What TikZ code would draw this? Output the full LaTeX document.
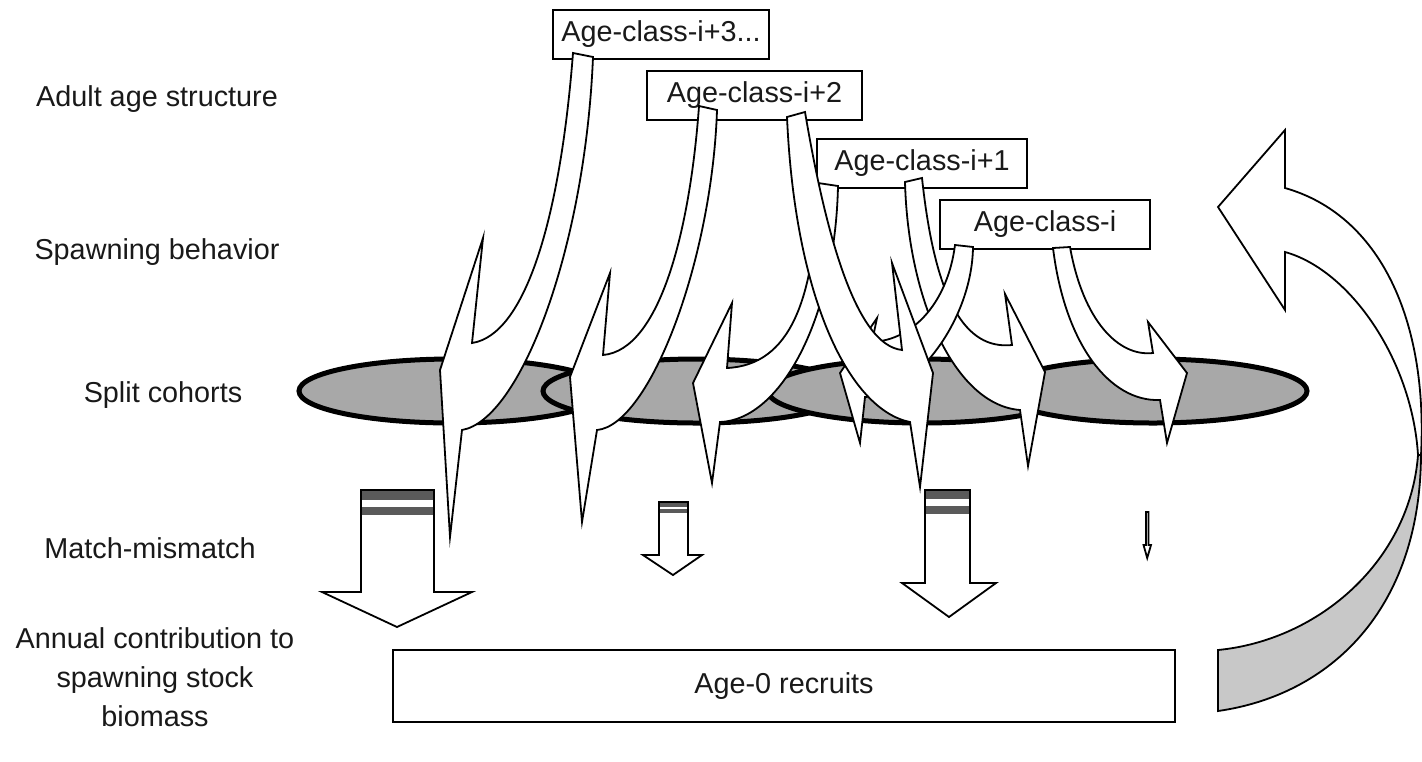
\documentclass[tikz,border=0pt]{standalone}
\usepackage{fontspec}
\setmainfont{Liberation Sans}
\definecolor{cohortgray}{HTML}{A8A8A8}
\definecolor{ribbongray}{HTML}{C8C8C8}
\definecolor{stripegray}{HTML}{5A5A5A}
\begin{document}
\begin{tikzpicture}[x=0.5pt,y=-0.5pt,
  every node/.style={font=\fontsize{14.4pt}{19.5pt}\selectfont, text=black!90},
  cohort/.style={fill=cohortgray, draw=black, line width=2.5pt},
  agebox/.style={draw=black, line width=1pt, fill=white, inner sep=0pt, minimum height=24.5pt},
  spiky/.style={draw=black, fill=white, line width=0.9pt, line join=miter, miter limit=25},
  blockarr/.style={draw=black, line width=0.9pt, line join=miter},
  stripe/.style={fill=stripegray},
  rowlabel/.style={align=center, inner sep=0pt}
]
\useasboundingbox (0,0) rectangle (1422,761);

% row labels
\node[rowlabel] (lab1) at (157,99) {Adult age structure};
\node[rowlabel] (lab2) at (157,252) {Spawning behavior};
\node[rowlabel] (lab3) at (163,395) {Split cohorts};
\node[rowlabel] (lab4) at (150,548) {Match-mismatch};
\node[rowlabel] (lab5) at (155,677) {Annual contribution to\\spawning stock\\biomass};

% split cohorts
\path[cohort] (453,391) ellipse [x radius=77pt, y radius=16pt];
\path[cohort] (697,391) ellipse [x radius=77pt, y radius=16pt];
\path[cohort] (922,391) ellipse [x radius=77pt, y radius=16pt];
\path[cohort] (1153,391) ellipse [x radius=77pt, y radius=16pt];

% age-class boxes
\node[agebox, minimum width=108pt] (a3) at (661,34) {Age-class-i+3...};
\node[agebox, minimum width=107.5pt] (a2) at (754.5,95.5) {Age-class-i+2};
\node[agebox, minimum width=105pt] (a1) at (922,163) {Age-class-i+1};
\node[agebox, minimum width=105pt] (a0) at (1045,224.5) {Age-class-i};

% spawning arrows
% A (i+3)
\path[spiky] (573,53) .. controls (560,220) and (525,335) .. (472,343) -- (483,238) -- (440,370) -- (450,537) -- (462,430) .. controls (520,420) and (585,250) .. (593,57) -- cycle;
% B (i+2 left)
\path[spiky] (699,106) .. controls (690,230) and (660,350) .. (603,355) -- (610,273) -- (570,377) -- (582,522) -- (597,430) .. controls (650,425) and (712,260) .. (717,110) -- cycle;
% C (i+1 left)
\path[spiky] (818,183) .. controls (815,300) and (790,365) .. (727,368) -- (732,303) -- (693,383) -- (712,483) -- (720,422) .. controls (780,420) and (835,320) .. (838,186) -- cycle;
% F (i+1 right)
\path[spiky] (922,178) .. controls (935,300) and (965,350) .. (1012,345) -- (1005,294) -- (1045,372) -- (1028,466) -- (1020,410) .. controls (955,405) and (908,300) .. (905,182) -- cycle;
% E (i left)
\path[spiky] (955,245) .. controls (948,300) and (915,340) .. (872,342) -- (877,318) -- (840,373) -- (860,443) -- (865,397) .. controls (915,395) and (972,320) .. (973,247) -- cycle;
% D (i+2 right)
\path[spiky] (805,112) .. controls (825,230) and (855,345) .. (902,350) -- (892,263) -- (933,373) -- (920,487) -- (910,422) .. controls (850,410) and (795,300) .. (787,117) -- cycle;
% G (i right)
\path[spiky] (1070,247) .. controls (1083,320) and (1118,357) .. (1153,353) -- (1148,322) -- (1187,373) -- (1167,443) -- (1160,400) .. controls (1110,402) and (1065,345) .. (1053,248) -- cycle;

% match-mismatch arrows
\fill[white] (361,490) -- (434,490) -- (434,592) -- (472,592) -- (397,627) -- (322,592) -- (361,592) -- cycle;
\fill[stripe] (361,490) rectangle (434,500);
\fill[stripe] (361,507) rectangle (434,515);
\path[blockarr] (361,490) -- (434,490) -- (434,592) -- (472,592) -- (397,627) -- (322,592) -- (361,592) -- cycle;

\fill[white] (659,502) -- (688,502) -- (688,555) -- (702,555) -- (673,575) -- (643,555) -- (659,555) -- cycle;
\fill[stripe] (659,502) rectangle (688,507);
\fill[stripe] (659,509) rectangle (688,513);
\path[blockarr] (659,502) -- (688,502) -- (688,555) -- (702,555) -- (673,575) -- (643,555) -- (659,555) -- cycle;

\fill[white] (925,490) -- (970,490) -- (970,583) -- (996,583) -- (949,617) -- (902,583) -- (925,583) -- cycle;
\fill[stripe] (925,490) rectangle (970,499);
\fill[stripe] (925,506) rectangle (970,514);
\path[blockarr] (925,490) -- (970,490) -- (970,583) -- (996,583) -- (949,617) -- (902,583) -- (925,583) -- cycle;

\path[blockarr, fill=white] (1146,512) -- (1148.5,512) -- (1148.5,545) -- (1151,545) -- (1147.2,558) -- (1143.5,545) -- (1146,545) -- cycle;

% recruits box
\node[draw=black, line width=1pt, minimum width=391pt, minimum height=36pt, inner sep=0pt] (recruits) at (784,686) {Age-0 recruits};

% return arrow
\path[draw=black, line width=0.9pt, fill=ribbongray, line join=miter] (1218,650) -- (1218,711) .. controls (1330,695) and (1420,610) .. (1421,455) -- (1418,455) .. controls (1410,560) and (1320,640) .. (1218,650) -- cycle;
\path[draw=black, line width=0.9pt, fill=white, line join=miter] (1421,455) .. controls (1428,320) and (1380,215) .. (1285,188) -- (1285,130) -- (1218,207) -- (1285,310) -- (1285,252) .. controls (1350,270) and (1412,360) .. (1418,455) -- cycle;
\end{tikzpicture}
\end{document}
